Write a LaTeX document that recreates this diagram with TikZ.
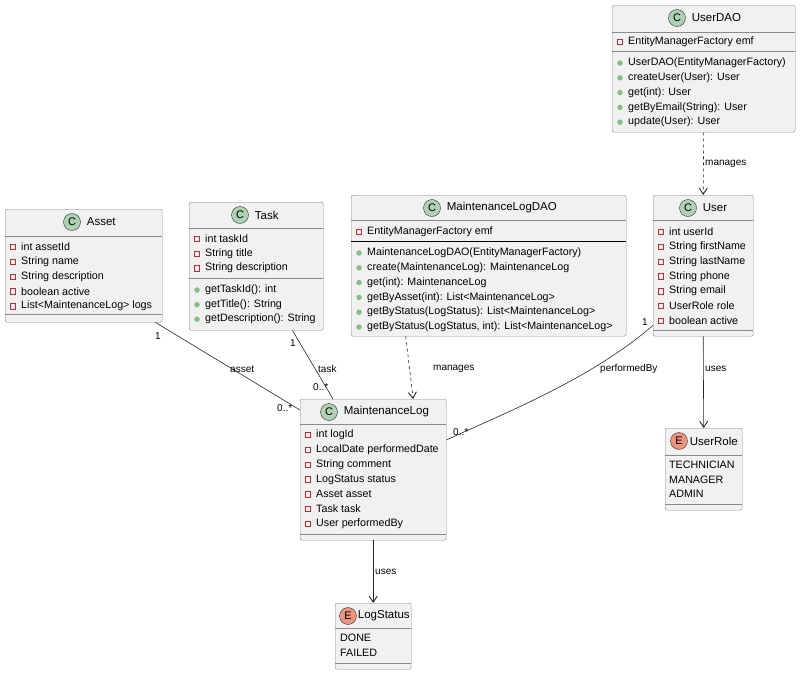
\documentclass[tikz,border=0pt]{standalone}
\usepackage{fontspec}
\setmainfont{Liberation Sans}
\usetikzlibrary{positioning,arrows.meta,calc}

\definecolor{boxfill}{HTML}{F1F1F1}
\definecolor{boxline}{HTML}{8A8A8A}
\definecolor{classgreen}{HTML}{ADD1B2}
\definecolor{enumred}{HTML}{EB937F}
\definecolor{privred}{HTML}{C82930}
\definecolor{pubgreen}{HTML}{84BE84}

\tikzset{
  classbox/.style={draw=boxline,fill=boxfill,rounded corners=2pt,anchor=north west,inner sep=0pt},
  sep/.style={draw=boxline,line width=0.6pt},
  cicon/.style={circle,draw=black!80,fill=classgreen,minimum size=17pt,inner sep=0pt,font=\fontsize{11}{11}\selectfont},
  eicon/.style={circle,draw=black!80,fill=enumred,minimum size=17pt,inner sep=0pt,font=\fontsize{11}{11}\selectfont},
  cname/.style={inner sep=0pt,font=\fontsize{11.5}{13}\selectfont},
  member/.style={anchor=west,inner sep=0pt,font=\fontsize{10.7}{12}\selectfont},
  priv/.style={draw=privred,line width=0.6pt,minimum size=5.5pt,inner sep=0pt},
  pub/.style={circle,fill=pubgreen,minimum size=5.5pt,inner sep=0pt},
  link/.style={draw=black!85,line width=0.6pt},
  dep/.style={link,dashed,-{Straight Barb[length=6pt,width=8pt,line width=0.9pt]}},
  use/.style={link,-{Straight Barb[length=6pt,width=8pt,line width=0.9pt]}},
  lbl/.style={inner sep=0pt,font=\fontsize{10}{11}\selectfont,anchor=west},
}

\begin{document}
\begin{tikzpicture}[x=1pt,y=-1pt]
\useasboundingbox (0,0) rectangle (800,675);

% boxes
\node[classbox,minimum width=157pt,minimum height=113pt] (asset) at (5,209) {};
\node[classbox,minimum width=134pt,minimum height=128pt] (task) at (189,202) {};
\node[classbox,minimum width=275pt,minimum height=141pt] (mldao) at (351,195) {};
\node[classbox,minimum width=183pt,minimum height=127pt] (userdao) at (612,5) {};
\node[classbox,minimum width=100pt,minimum height=141pt] (user) at (653,195) {};
\node[classbox,minimum width=146pt,minimum height=141pt] (mlog) at (300,399) {};
\node[classbox,minimum width=77pt,minimum height=82pt] (userrole) at (665,428) {};
\node[classbox,minimum width=76pt,minimum height=66pt] (logstatus) at (335,603) {};

% compartments
\draw[sep] ([yshift=-27pt]asset.north west) -- ([yshift=-27pt]asset.north east);
\draw[sep] ([yshift=8pt]asset.south west) -- ([yshift=8pt]asset.south east);
\draw[sep] ([yshift=-26pt]task.north west) -- ([yshift=-26pt]task.north east);
\draw[sep] ([yshift=-76pt]task.north west) -- ([yshift=-76pt]task.north east);
\draw[sep] ([yshift=-25pt]mldao.north west) -- ([yshift=-25pt]mldao.north east);
\draw[sep,draw=black] ([yshift=-46pt]mldao.north west) -- ([yshift=-46pt]mldao.north east);
\draw[sep] ([yshift=-27pt]userdao.north west) -- ([yshift=-27pt]userdao.north east);
\draw[sep] ([yshift=-46pt]userdao.north west) -- ([yshift=-46pt]userdao.north east);
\draw[sep] ([yshift=-25pt]user.north west) -- ([yshift=-25pt]user.north east);
\draw[sep] ([yshift=6pt]user.south west) -- ([yshift=6pt]user.south east);
\draw[sep] ([yshift=-25pt]mlog.north west) -- ([yshift=-25pt]mlog.north east);
\draw[sep] ([yshift=6pt]mlog.south west) -- ([yshift=6pt]mlog.south east);
\draw[sep] ([yshift=-27pt]userrole.north west) -- ([yshift=-27pt]userrole.north east);
\draw[sep] ([yshift=6pt]userrole.south west) -- ([yshift=6pt]userrole.south east);
\draw[sep] ([yshift=-25pt]logstatus.north west) -- ([yshift=-25pt]logstatus.north east);
\draw[sep] ([yshift=6pt]logstatus.south west) -- ([yshift=6pt]logstatus.south east);

% headers
\node[cicon] (asset-c) at (72,222) {C};
\node[cname,right=6pt of asset-c] (asset-n) {Asset};
\node[cicon] (task-c) at (240,215) {C};
\node[cname,right=6pt of task-c] (task-n) {Task};
\node[cicon] (mldao-c) at (432,208) {C};
\node[cname,right=6pt of mldao-c] (mldao-n) {MaintenanceLogDAO};
\node[cicon] (userdao-c) at (677,18) {C};
\node[cname,right=6pt of userdao-c] (userdao-n) {UserDAO};
\node[cicon] (user-c) at (688,208) {C};
\node[cname,right=6pt of user-c] (user-n) {User};
\node[cicon] (mlog-c) at (329,412) {C};
\node[cname,right=6pt of mlog-c] (mlog-n) {MaintenanceLog};
\node[eicon] (userrole-c) at (679,441) {E};
\node[cname,right=2pt of userrole-c] (userrole-n) {UserRole};
\node[eicon] (logstatus-c) at (348,616) {E};
\node[cname,right=1pt of logstatus-c] (logstatus-n) {LogStatus};

% members
\foreach \t [count=\i from 0] in {int assetId,String name,String description,boolean active,List<MaintenanceLog> logs}
  {\node[priv] (asset-m\i) at (13,{247+14.8*\i}) {}; \node[member] (asset-f\i) at (21,{247+14.8*\i}) {\t};}
\foreach \t [count=\i from 0] in {int taskId,String title,String description}
  {\node[priv] (task-m\i) at (197,{239+14.6*\i}) {}; \node[member] (task-f\i) at (205,{239+14.6*\i}) {\t};}
\foreach \t [count=\i from 0] in {getTaskId(): int,getTitle(): String,getDescription(): String}
  {\node[pub] (task-o\i) at (197,{290+14.6*\i}) {}; \node[member] (task-g\i) at (205,{290+14.6*\i}) {\t};}
\node[priv] (mldao-m0) at (359,232) {}; \node[member] (mldao-f0) at (367,232) {EntityManagerFactory emf};
\foreach \t [count=\i from 0] in {MaintenanceLogDAO(EntityManagerFactory),create(MaintenanceLog): MaintenanceLog,get(int): MaintenanceLog,getByAsset(int): List<MaintenanceLog>,getByStatus(LogStatus): List<MaintenanceLog>,{getByStatus(LogStatus, int): List<MaintenanceLog>}}
  {\node[pub] (mldao-o\i) at (359,{253+14.8*\i}) {}; \node[member] (mldao-g\i) at (367,{253+14.8*\i}) {\t};}
\node[priv] (userdao-m0) at (620,42) {}; \node[member] (userdao-f0) at (628,42) {EntityManagerFactory emf};
\foreach \t [count=\i from 0] in {UserDAO(EntityManagerFactory),createUser(User): User,get(int): User,getByEmail(String): User,update(User): User}
  {\node[pub] (userdao-o\i) at (620,{63+14.8*\i}) {}; \node[member] (userdao-g\i) at (628,{63+14.8*\i}) {\t};}
\foreach \t [count=\i from 0] in {int userId,String firstName,String lastName,String phone,String email,UserRole role,boolean active}
  {\node[priv] (user-m\i) at (661,{232+14.8*\i}) {}; \node[member] (user-f\i) at (669,{232+14.8*\i}) {\t};}
\foreach \t [count=\i from 0] in {int logId,LocalDate performedDate,String comment,LogStatus status,Asset asset,Task task,User performedBy}
  {\node[priv] (mlog-m\i) at (308,{435+14.8*\i}) {}; \node[member] (mlog-f\i) at (316,{435+14.8*\i}) {\t};}
\foreach \t [count=\i from 0] in {TECHNICIAN,MANAGER,ADMIN}
  {\node[member] (userrole-f\i) at (669,{465+14.6*\i}) {\t};}
\foreach \t [count=\i from 0] in {DONE,FAILED}
  {\node[member] (logstatus-f\i) at (340,{638+14.8*\i}) {\t};}

% connectors
\draw[dep] (userdao.south) -- (user.north);
\node[lbl] (l-manages1) at (705,164) {manages};
\draw[dep] ([xshift=-83pt]mldao.south) -- ([xshift=40pt]mlog.north);
\node[lbl] (l-manages2) at (433,369) {manages};
\draw[link] ([xshift=-7pt]asset.south east) -- ([yshift=-11pt]mlog.north west);
\node[lbl] (l-asset) at (230,369) {asset};
\node[lbl] (m-asset1) at (155,336) {1};
\node[lbl] (m-asset2) at (277,408) {0..*};
\draw[link] ([xshift=-31pt]task.south east) -- ([xshift=33pt]mlog.north west);
\node[lbl] (l-task) at (318,369) {task};
\node[lbl] (m-task1) at (290,343) {1};
\node[lbl] (m-task2) at (313,387) {0..*};
\draw[link] ([yshift=11pt]user.south west) .. controls (590,380) and (500,415) .. ([yshift=-41pt]mlog.north east);
\node[lbl] (l-perf) at (600,369) {performedBy};
\node[lbl] (m-perf1) at (642,322) {1};
\node[lbl] (m-perf2) at (453,432) {0..*};
\draw[use] (user.south) -- (userrole.north);
\node[lbl] (l-uses1) at (705,369) {uses};
\draw[use] (mlog.south) -- (logstatus.north);
\node[lbl] (l-uses2) at (375,572) {uses};
\end{tikzpicture}
\end{document}
